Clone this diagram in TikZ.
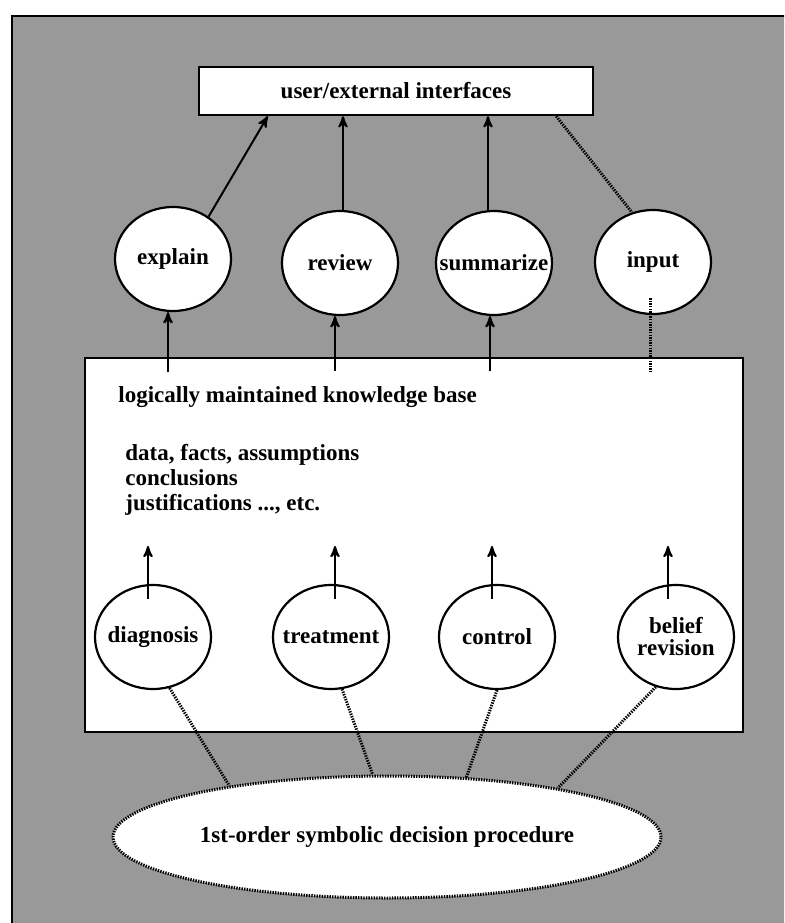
\documentclass[tikz,border=0pt]{standalone}
\usepackage{fontspec}
\setmainfont{Liberation Serif}
\usepackage{tikz}
\usetikzlibrary{arrows,shapes.geometric,calc}
\usetikzlibrary{positioning}
\tikzset{
    font={\fontsize{11.5pt}{12.5pt}\selectfont\bfseries},
    task/.style={
           ellipse,
           draw=black, line width=1.1pt,
           fill=white,
           minimum width=58pt, minimum height=52pt,
           inner xsep=-8pt, inner ysep=0pt,
           align=center,
           },
    box/.style={rectangle, draw=black, line width=1.2pt, fill=white},
    dotlink/.style={line width=1.5pt, dash pattern=on 0.7pt off 0.6pt},
    link/.style={->, line width=1pt},
}

\begin{document}
\begin{tikzpicture}[x=0.5pt,y=-0.5pt,>=stealth']

\clip (0,0) rectangle (784,923);
\fill[black!40] (12,16) rectangle (790,930);
\draw[line width=1.2pt] (12,930) -- (12,16) -- (790,16);

\node[box, minimum width=197pt, minimum height=24pt] (user) at (396,91) {user/external interfaces};

% top row
\node[task] (explain)   at (173,259) {explain};
\node[task] (review)    at (340,263) {review};
\node[task] (summarize) at (494,263) {summarize};
\node[task] (input)     at (653,262) {input};

% knowledge base
\node[box, minimum width=329pt, minimum height=187pt] (kb) at (414,545) {};
\node[anchor=west, inner sep=0pt] (kbtitle) at (118,397) {logically maintained knowledge base};
\node[anchor=west, inner sep=0pt, align=left] (kbitems) at (125,480) {%
    data, facts, assumptions\\conclusions\\justifications ..., etc.};

% bottom row
\node[task] (diagnosis) at (153,637) {diagnosis};
\node[task] (treatment) at (331,637) {treatment};
\node[task] (control)   at (497,637) {control};
\node[task, font={\fontsize{11.5pt}{11pt}\selectfont\bfseries}] (belief) at (676,637) {belief\\revision};

\node[ellipse, draw=black, dotlink, fill=white, minimum width=273pt, minimum height=61pt] (proc) at (387,837) {1st-order symbolic decision procedure};

\path (explain.50)        edge[link]    ([xshift=35pt]user.south west)
([xshift=1.5pt]review.north)    edge[link]    ([xshift=1.5pt]review.north |- user.south)
([xshift=-3pt]summarize.north)  edge[link]    ([xshift=-3pt]summarize.north |- user.south)
([xshift=-19pt]user.south east) edge[dotlink] (input.113)
($(explain.south)+(-5,60)$)   edge[link] ($(explain.south)+(-5,0)$)
($(review.south)+(-5,55)$)    edge[link] ($(review.south)+(-5,0)$)
($(summarize.south)+(-4,55)$) edge[link] ($(summarize.south)+(-4,0)$)
($(input.south)+(-3,-17)$)    edge[dotlink] ($(input.south)+(-3,56)$)
($(diagnosis.north)+(-5,15)$) edge[link] ($(diagnosis.north)+(-5,-38)$)
($(treatment.north)+(4,15)$)  edge[link] ($(treatment.north)+(4,-38)$)
($(control.north)+(-5,15)$)   edge[link] ($(control.north)+(-5,-38)$)
($(belief.north)+(-8,15)$)    edge[link] ($(belief.north)+(-8,-38)$)
(diagnosis.-72)   edge[dotlink]  (proc.162)
(treatment.-78)   edge[dotlink]  (proc.103)
(control.south)   edge[dotlink]  (proc.37)
(belief.-112)     edge[dotlink]  (proc.16);

\end{tikzpicture}
\end{document}
